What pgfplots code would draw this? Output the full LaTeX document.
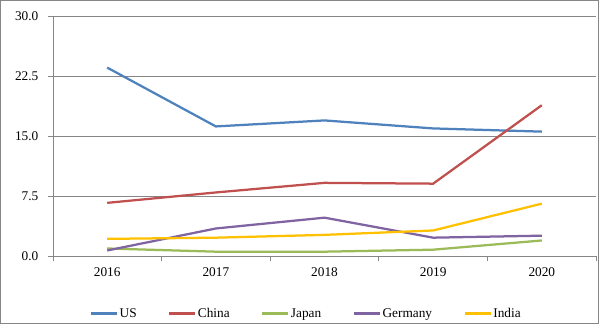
\documentclass[border=0pt]{standalone}
\usepackage{pgfplots}
\pgfplotsset{compat=1.18}
\usepackage{fontspec}
\setmainfont{Liberation Serif}
\definecolor{cUS}{HTML}{4F81BD}
\definecolor{cChina}{HTML}{C0504D}
\definecolor{cJapan}{HTML}{9BBB59}
\definecolor{cGermany}{HTML}{8064A2}
\definecolor{cIndia}{HTML}{FFC000}
\definecolor{gridgray}{HTML}{868686}
\newcommand\lblfont{\fontsize{13.3bp}{15bp}\selectfont}
\pgfplotstableread{
x US China Japan Germany India
0 23.6 6.7 1.0 0.75 2.2
1 16.25 8.0 0.6 3.5 2.35
2 17.0 9.2 0.6 4.85 2.7
3 16.0 9.1 0.85 2.35 3.25
4 15.6 18.9 2.0 2.6 6.6
}\datatable
\begin{document}
\begin{tikzpicture}
\begin{axis}[
  scale only axis, width=543bp, height=240bp,
  xmin=-0.5, xmax=4.5, ymin=0, ymax=30,
  xtick={-0.5,0.5,1.5,2.5,3.5,4.5},
  x tick label as interval,
  xticklabels={2016,2017,2018,2019,2020},
  ytick={0,7.5,15,22.5,30},
  ymajorgrids,
  grid style={color=gridgray, line width=0.75bp},
  axis x line*=bottom, axis y line*=left,
  axis line style={gridgray, line width=0.75bp, -},
  tick style={gridgray, line width=0.75bp},
  tick align=outside, major tick length=5bp,
  yticklabel style={/pgf/number format/.cd, fixed, fixed zerofill, precision=1, /tikz/.cd, xshift=-6bp},
  xticklabel style={yshift=-3bp},
  /pgf/number format/assume math mode=true,
  tick label style={font=\lblfont, text=black},
  clip=false,
  legend style={at={(0.466,-0.2375)}, anchor=center, draw=none, font=\lblfont,
    nodes={inner sep=1.5bp},
    /tikz/every even column/.append style={column sep=30bp}},
  legend columns=5,
  legend cell align=left,
  legend image code/.code={\draw[#1] (0,0) -- (26bp,0);},
  every axis plot/.append style={line width=2.25bp},
]
\addplot[cUS] table[x=x,y=US]{\datatable};
\addlegendentry{US}
\addplot[cChina] table[x=x,y=China]{\datatable};
\addlegendentry{China}
\addplot[cJapan] table[x=x,y=Japan]{\datatable};
\addlegendentry{Japan}
\addplot[cGermany] table[x=x,y=Germany]{\datatable};
\addlegendentry{Germany}
\addplot[cIndia] table[x=x,y=India]{\datatable};
\addlegendentry{India}
\draw[gridgray, line width=0.75bp] ([shift={(-52.5bp,-66.5bp)}]rel axis cs:0,0) rectangle ([shift={(2.5bp,16bp)}]rel axis cs:1,1);
\end{axis}
\end{tikzpicture}
\end{document}
